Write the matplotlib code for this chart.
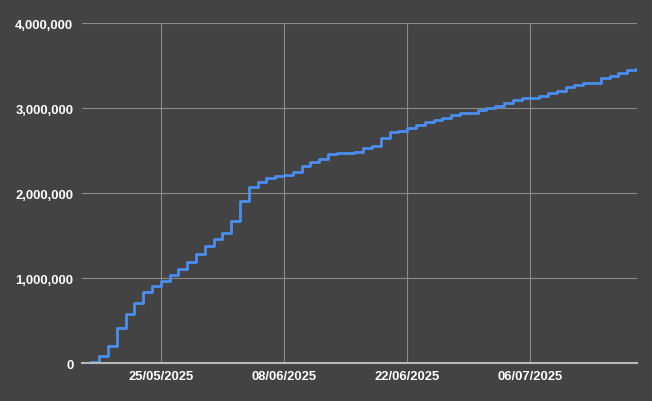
import matplotlib
matplotlib.use('Agg')
from matplotlib import pyplot as plt
import matplotlib.dates as mdates
from matplotlib.ticker import FuncFormatter
import pandas as pd

# daily cumulative totals, 16/05/2025 .. 18/07/2025
dates = pd.date_range('2025-05-16', '2025-07-18', freq='D')
totals = [
    5000, 20000, 80000, 204000, 412000, 576000, 714000, 839000, 914000, 973000,
    1039000, 1114000, 1196000, 1282000, 1373000, 1459000, 1537000, 1674000, 1909000, 2067000,
    2133000, 2173000, 2204000, 2215000, 2250000, 2320000, 2361000, 2400000, 2459000, 2467000,
    2470000, 2486000, 2526000, 2557000, 2643000, 2721000, 2733000, 2761000, 2800000, 2839000,
    2859000, 2882000, 2921000, 2937000, 2940000, 2976000, 2996000, 3027000, 3059000, 3094000,
    3114000, 3120000, 3145000, 3173000, 3204000, 3243000, 3275000, 3290000, 3294000, 3353000,
    3380000, 3412000, 3447000, 3455000,
]
tick_dates = ['2025-05-25', '2025-06-08', '2025-06-22', '2025-07-06']
y_ticks = [0, 1000000, 2000000, 3000000, 4000000]

bg = '#434343'
plt.rcParams['font.family'] = ['Liberation Sans', 'DejaVu Sans']

fig = plt.figure(figsize=(6.52, 4.02), dpi=100, facecolor=bg)
ax = fig.add_axes([81.7 / 652, 37.7 / 402, 555 / 652, 340.3 / 402], facecolor=bg)

ax.step(dates, totals, where='post', color='#4a8ef0', linewidth=2.0, zorder=3)

ax.set_xlim(pd.Timestamp('2025-05-16'), pd.Timestamp('2025-07-18 02:00'))
ax.set_ylim(0, 4000000)
ax.set_xticks(pd.to_datetime(tick_dates))
ax.xaxis.set_major_formatter(mdates.DateFormatter('%d/%m/%Y'))
ax.set_yticks(y_ticks)
ax.yaxis.set_major_formatter(FuncFormatter(lambda v, p: f'{int(v):,}'))

ax.grid(True, color='#8a8a8a', linewidth=0.8, zorder=1)
ax.tick_params(length=0, colors='white', labelsize=9.4)
ax.tick_params(axis='y', pad=6)
ax.tick_params(axis='x', pad=5)
for lbl in ax.get_xticklabels() + ax.get_yticklabels():
    lbl.set_fontweight('bold')
for side in ['top', 'right', 'left']:
    ax.spines[side].set_visible(False)
ax.spines['bottom'].set_color('#b8b8b8')
ax.spines['bottom'].set_linewidth(1.5)
ax.spines['bottom'].set_zorder(4)

plt.savefig('out.png', dpi=100, facecolor=bg)
